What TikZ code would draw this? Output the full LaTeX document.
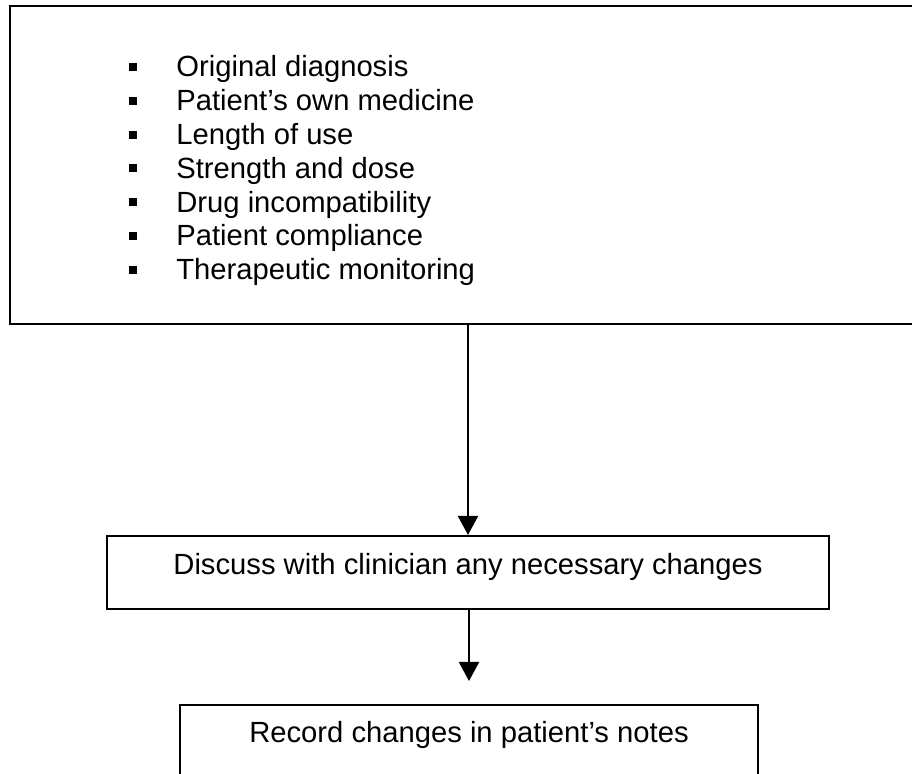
\documentclass[tikz,border=0pt]{standalone}
\usepackage{fontspec}
\setmainfont{Liberation Sans}
\usetikzlibrary{arrows.meta}
\tikzset{
  box/.style={draw=black, line width=1pt, inner sep=0pt, fill=none},
  itemtext/.style={anchor=base west, inner sep=0pt, font=\fontsize{14.6}{16.9}\selectfont},
  ctext/.style={anchor=base, inner sep=0pt, font=\fontsize{14.6}{16.9}\selectfont},
  bulletsq/.style={fill=black, draw=none, minimum size=4pt, inner sep=0pt},
  arr/.style={line width=1pt, -{Triangle[width=10pt,length=9.5pt]}}
}
\begin{document}
\begin{tikzpicture}[x=0.5pt, y=-0.5pt]
\useasboundingbox (0,0) rectangle (912,774);
\fill[white] (0,0) rectangle (912,774);
\clip (0,0) rectangle (912,774);
% boxes
\node[box, minimum width=460pt, minimum height=159pt] (top) at (470,165) {};
\node[box, minimum width=361pt, minimum height=36.5pt] (disc) at (468,572.5) {};
\node[box, minimum width=289pt, minimum height=47.5pt] (rec) at (469,752.5) {};
% list
\foreach \t [count=\i] in {Original diagnosis, Patient’s own medicine, Length of use, Strength and dose, Drug incompatibility, Patient compliance, Therapeutic monitoring}{
  \pgfmathsetmacro{\yb}{77+33.8*(\i-1)}
  \node[bulletsq] (b\i) at (132.5,\yb-10) {};
  \node[itemtext] (l\i) at (176,\yb) {\t};
}
\node[ctext] (disctext) at (468,575) {Discuss with clinician any necessary changes};
\node[ctext] (rectext) at (469,743) {Record changes in patient’s notes};
% arrows
\coordinate (a2end) at (469,681);
\draw[arr] (top.south -| disc.north) -- (disc.north);
\draw[arr] (disc.south -| a2end) -- (a2end);
\end{tikzpicture}
\end{document}
